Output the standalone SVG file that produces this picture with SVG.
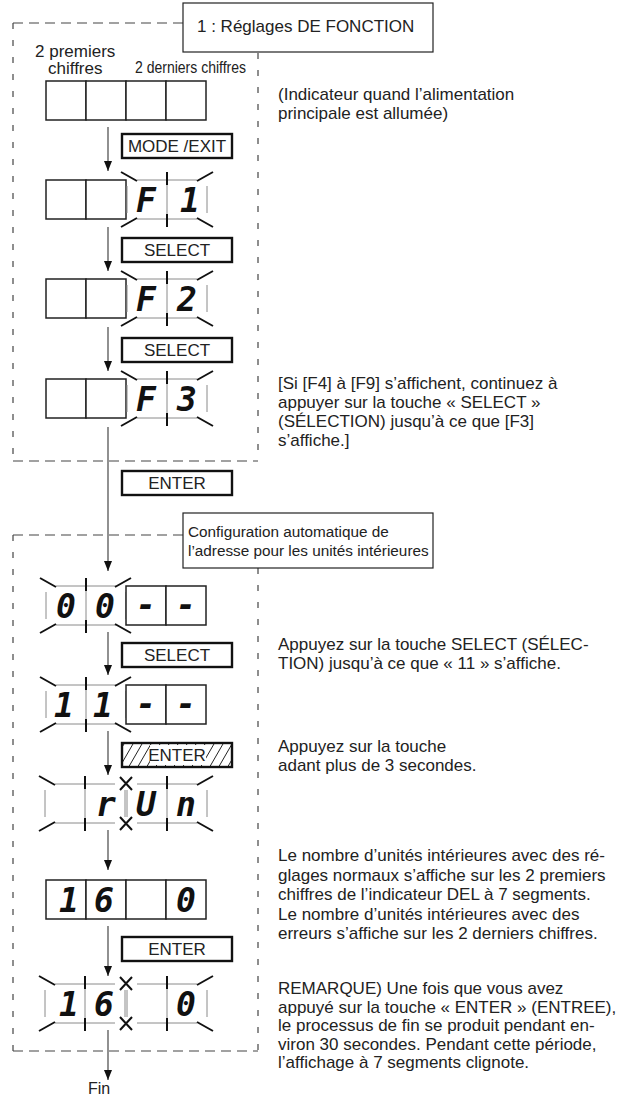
<svg xmlns="http://www.w3.org/2000/svg" width="619" height="1098" viewBox="0 0 619 1098">
<style>
.bg{fill:#fff}
.dh{stroke:#444;stroke-width:1.2;stroke-dasharray:10 6;fill:none}
.dv{stroke:#444;stroke-width:1.2;stroke-dasharray:6 11;fill:none}
.cell{fill:#fff;stroke:#222;stroke-width:1.5}
.bl{stroke:#8a8a8a;stroke-width:1;fill:none}
.ray{stroke:#111;stroke-width:2;fill:none}
.key{fill:#fff;stroke:#111;stroke-width:2.4}
.tbox{fill:#fff;stroke:#222;stroke-width:1.2}
.t{font-family:"Liberation Sans",Arial,sans-serif;font-size:17px;fill:#222}
.k{font-family:"Liberation Sans",Arial,sans-serif;font-size:17px;fill:#222;text-anchor:middle}
.seg{font-family:"DejaVu Sans Mono",monospace;font-weight:bold;font-style:oblique;font-size:33px;fill:#111;text-anchor:middle}
.conn{stroke:#555;stroke-width:1.3;fill:none;marker-end:url(#ah)}
</style>
<defs>
<marker id="ah" markerUnits="userSpaceOnUse" markerWidth="10" markerHeight="8" refX="10" refY="4" orient="auto"><path d="M0,0 L10,4 L0,8 z" fill="#111"/></marker>
<pattern id="hatch" width="9" height="9" patternUnits="userSpaceOnUse" patternTransform="skewX(-30)"><line x1="4.5" y1="-1" x2="4.5" y2="10" stroke="#222" stroke-width="1"/></pattern>
<g id="bgrp">
<path class="bl" d="M10,0 H70 M10,39 H70 M0,6 V33 M80,6 V33 M40,0 V39"/>
<path class="ray" d="M40,-8 V5 M40,34 V47"/>
</g>
<path id="rayL" class="ray" d="M-6,-8 L10,1 M-6,47 L10,38"/>
<path id="rayR" class="ray" d="M86,-8 L70,1 M86,47 L70,38"/>
<path id="xj" class="ray" d="M-6,-7 L6,6 M6,-7 L-6,6 M-6,33 L6,46 M6,33 L-6,46"/>
<g id="c2"><rect class="cell" x="0" y="0" width="40" height="39"/><rect class="cell" x="40" y="0" width="40" height="39"/></g>
</defs>
<rect class="bg" x="0" y="0" width="619" height="1098"/>

<g id="frames">
<path class="dh" d="M13,23 H183 M13,461 H258 M13,535 H183 M13,1051 H258"/>
<path class="dv" d="M13,23 V461 M258,53 V461 M13,535 V1051 M258,568 V1051"/>
</g>

<g id="connectors">
<path class="conn" d="M108,127 V171"/>
<path class="conn" d="M108,227 V271"/>
<path class="conn" d="M108,327 V371"/>
<path class="conn" d="M108,427 V571"/>
<path class="conn" d="M108,632 V675"/>
<path class="conn" d="M108,731 V775"/>
<path class="conn" d="M108,830 V870"/>
<path class="conn" d="M108,926 V976"/>
<path class="conn" d="M108,1030 V1080"/>
</g>

<g id="title1">
<rect class="tbox" x="183" y="3" width="250" height="49"/>
<text class="t" x="197" y="32">1 : Réglages DE FONCTION</text>
</g>

<g id="disp1">
<text class="t" x="35" y="57">2 premiers</text>
<text class="t" x="48" y="74">chiffres</text>
<text class="t" x="135" y="73" style="font-size:16px" textLength="111" lengthAdjust="spacingAndGlyphs">2 derniers chiffres</text>
<use href="#c2" x="46" y="81"/>
<use href="#c2" x="126" y="81"/>
</g>

<g id="key-mode"><rect class="key" x="122" y="134" width="110" height="24"/><text class="k" x="177" y="152">MODE /EXIT</text></g>

<g id="disp2">
<use href="#c2" x="46" y="180"/>
<use href="#bgrp" x="127" y="180"/><use href="#rayL" x="127" y="180"/><use href="#rayR" x="127" y="180"/>
<text class="seg" x="146" y="212">F</text><text class="seg" x="190" y="212">1</text>
</g>

<g id="key-select1"><rect class="key" x="122" y="238" width="110" height="24"/><text class="k" x="177" y="256">SELECT</text></g>

<g id="disp3">
<use href="#c2" x="46" y="279"/>
<use href="#bgrp" x="127" y="279"/><use href="#rayL" x="127" y="279"/><use href="#rayR" x="127" y="279"/>
<text class="seg" x="146" y="311">F</text><text class="seg" x="187" y="311">2</text>
</g>

<g id="key-select2"><rect class="key" x="122" y="338" width="110" height="24"/><text class="k" x="177" y="356">SELECT</text></g>

<g id="disp4">
<use href="#c2" x="46" y="379"/>
<use href="#bgrp" x="127" y="379"/><use href="#rayL" x="127" y="379"/><use href="#rayR" x="127" y="379"/>
<text class="seg" x="146" y="411">F</text><text class="seg" x="187" y="411">3</text>
</g>

<g id="note1">
<text class="t" x="278" y="100">(Indicateur quand l’alimentation<tspan x="278" dy="18.5">principale est allumée)</tspan></text>
</g>

<g id="note2">
<text class="t" x="278" y="389">[Si [F4] à [F9] s’affichent, continuez à<tspan x="278" dy="19">appuyer sur la touche « SELECT »</tspan><tspan x="278" dy="19">(SÉLECTION) jusqu’à ce que [F3]</tspan><tspan x="278" dy="19">s’affiche.]</tspan></text>
</g>

<g id="key-enter1"><rect class="key" x="122" y="471" width="110" height="24"/><text class="k" x="177" y="489">ENTER</text></g>

<g id="title2">
<rect class="tbox" x="183" y="513" width="250" height="55"/>
<text class="t" x="188" y="537" style="font-size:15.3px">Configuration automatique de<tspan x="188" dy="19">l’adresse pour les unités intérieures</tspan></text>
</g>

<g id="disp5">
<use href="#bgrp" x="46" y="586"/><use href="#rayL" x="46" y="586"/><use href="#rayR" x="45" y="586"/>
<use href="#c2" x="126" y="586"/>
<text class="seg" x="66" y="618">0</text><text class="seg" x="105" y="618">0</text>
<text class="seg" x="146" y="616">-</text><text class="seg" x="186" y="616">-</text>
</g>

<g id="key-select3"><rect class="key" x="122" y="643" width="110" height="24"/><text class="k" x="177" y="661">SELECT</text></g>

<g id="note3">
<text class="t" x="278" y="650">Appuyez sur la touche SELECT (SÉLEC-<tspan x="278" dy="19">TION) jusqu’à ce que « 11 » s’affiche.</tspan></text>
</g>

<g id="disp6">
<use href="#bgrp" x="46" y="685"/><use href="#rayL" x="46" y="685"/><use href="#rayR" x="45" y="685"/>
<use href="#c2" x="126" y="685"/>
<text class="seg" x="64" y="717">1</text><text class="seg" x="103" y="717">1</text>
<text class="seg" x="146" y="715">-</text><text class="seg" x="186" y="715">-</text>
</g>

<g id="key-enter-hold">
<rect x="122" y="743" width="110" height="24" fill="url(#hatch)"/>
<rect x="150" y="745" width="56" height="20" fill="#fff"/>
<rect x="122" y="743" width="110" height="24" fill="none" stroke="#111" stroke-width="2.4"/>
<text class="k" x="177" y="761">ENTER</text>
</g>

<g id="note4">
<text class="t" x="278" y="752">Appuyez sur la touche<tspan x="278" dy="19">adant plus de 3 secondes.</tspan></text>
</g>

<g id="disp7">
<use href="#bgrp" x="45" y="784"/><use href="#rayL" x="45" y="784"/>
<use href="#bgrp" x="127" y="784"/><use href="#rayR" x="127" y="784"/>
<use href="#xj" x="126" y="784"/>
<text class="seg" x="106" y="816">r</text><text class="seg" x="146" y="816">U</text><text class="seg" x="186" y="816">n</text>
</g>

<g id="disp8">
<use href="#c2" x="46" y="880"/>
<use href="#c2" x="126" y="880"/>
<text class="seg" x="69" y="912">1</text><text class="seg" x="104" y="912">6</text><text class="seg" x="186" y="912">0</text>
</g>

<g id="note5">
<text class="t" x="278" y="861">Le nombre d’unités intérieures avec des ré-<tspan x="278" dy="19.5">glages normaux s’affiche sur les 2 premiers</tspan><tspan x="278" dy="19.5">chiffres de l’indicateur DEL à 7 segments.</tspan><tspan x="278" dy="19.5">Le nombre d’unités intérieures avec des</tspan><tspan x="278" dy="19.5">erreurs s’affiche sur les 2 derniers chiffres.</tspan></text>
</g>

<g id="key-enter2"><rect class="key" x="122" y="937" width="110" height="24"/><text class="k" x="177" y="955">ENTER</text></g>

<g id="disp9">
<use href="#bgrp" x="45" y="984"/><use href="#rayL" x="45" y="984"/>
<use href="#bgrp" x="127" y="984"/><use href="#rayR" x="127" y="984"/>
<use href="#xj" x="126" y="984"/>
<text class="seg" x="69" y="1016">1</text><text class="seg" x="104" y="1016">6</text><text class="seg" x="186" y="1016">0</text>
</g>

<g id="note6">
<text class="t" x="278" y="994">REMARQUE) Une fois que vous avez<tspan x="278" dy="18.5">appuyé sur la touche « ENTER » (ENTREE),</tspan><tspan x="278" dy="18.5">le processus de fin se produit pendant en-</tspan><tspan x="278" dy="18.5">viron 30 secondes. Pendant cette période,</tspan><tspan x="278" dy="18.5">l’affichage à 7 segments clignote.</tspan></text>
</g>

<g id="fin"><text class="t" x="88" y="1094" style="font-size:16px">Fin</text></g>
</svg>
